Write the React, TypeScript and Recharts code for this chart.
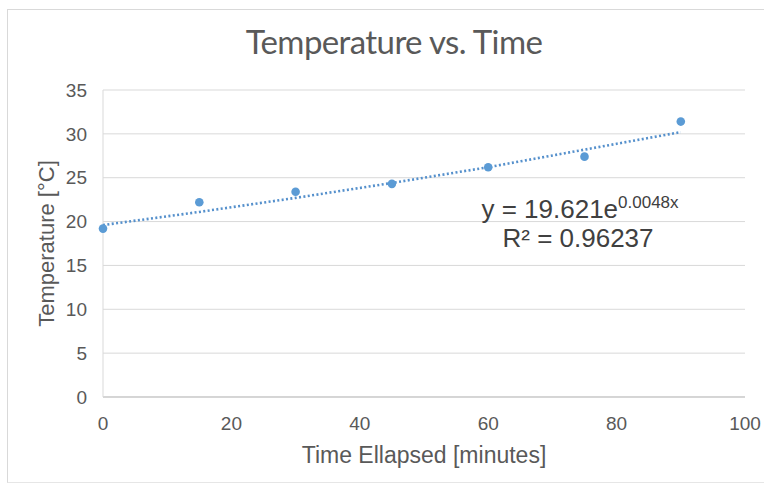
import React from 'react';
import {
  ScatterChart,
  Scatter,
  XAxis,
  YAxis,
  CartesianGrid,
  Label,
} from 'recharts';

// measured temperature at each sampling time
const minutes = [0, 15, 30, 45, 60, 75, 90];
const temperature = [19.2, 22.2, 23.4, 24.3, 26.2, 27.4, 31.4];

// dotted trendline at the same times
const trendValues = [19.6, 21.1, 22.7, 24.4, 26.2, 28.2, 30.2];

const xTicks = [0, 20, 40, 60, 80, 100];
const yTicks = [0, 5, 10, 15, 20, 25, 30, 35];

const points = minutes.map((m, i) => ({ x: m, y: temperature[i] }));
const trend = minutes.map((m, i) => ({ x: m, y: trendValues[i] }));

const blue = '#5b9bd5';
const textGrey = '#595959';
const sans = '"Liberation Sans", Arial, sans-serif';

export default function App() {
  return (
    <div
      style={{
        position: 'absolute',
        left: 7,
        top: 9,
        width: 756,
        height: 472,
        borderLeft: '1px solid #d9d9d9',
        borderTop: '1px solid #d9d9d9',
        borderBottom: '1px solid #e6e6e6',
        background: '#fff',
      }}
    >
      <div
        style={{
          position: 'absolute',
          left: 9,
          top: 15,
          width: 754,
          textAlign: 'center',
          fontFamily: 'Lato, sans-serif',
          fontSize: 33,
          lineHeight: '32px',
          color: textGrey,
          letterSpacing: -0.6,
        }}
      >
        Temperature vs. Time
      </div>

      <ScatterChart width={754} height={472} margin={{ top: 80, right: 17, left: 0, bottom: 0 }}>
        <CartesianGrid vertical={false} stroke="#d9d9d9" />
        <XAxis
          type="number"
          dataKey="x"
          domain={[0, 100]}
          ticks={xTicks}
          height={85}
          tickLine={false}
          tickSize={0}
          tickMargin={20}
          stroke="#bfbfbf"
          tick={{ fill: textGrey, fontSize: 19, fontFamily: sans }}
        >
          <Label
            value="Time Ellapsed [minutes]"
            position="insideBottom"
            offset={19}
            style={{ fill: textGrey, fontSize: 23, fontFamily: sans }}
          />
        </XAxis>
        <YAxis
          type="number"
          dataKey="y"
          domain={[0, 35]}
          ticks={yTicks}
          width={95}
          tickLine={false}
          tickSize={0}
          tickMargin={16}
          stroke="#d9d9d9"
          tick={{ fill: textGrey, fontSize: 19, fontFamily: sans }}
        >
          <Label
            value="Temperature [°C]"
            angle={-90}
            position="insideLeft"
            offset={38}
            style={{ fill: textGrey, fontSize: 22, fontFamily: sans, textAnchor: 'middle' }}
          />
        </YAxis>
        <Scatter
          data={trend}
          isAnimationActive={false}
          line={{ stroke: '#5590cc', strokeWidth: 2.6, strokeDasharray: '2 2.4' }}
          shape={() => <g />}
        />
        <Scatter
          data={points}
          isAnimationActive={false}
          fill={blue}
          shape={(p: any) => <circle cx={p.cx} cy={p.cy} r={4.3} fill={blue} />}
        />
      </ScatterChart>

      <div
        style={{
          position: 'absolute',
          left: 572 - 200,
          width: 400,
          top: 186,
          textAlign: 'center',
          fontFamily: sans,
          fontSize: 26,
          lineHeight: '26px',
          color: '#404040',
          whiteSpace: 'nowrap',
        }}
      >
        y = 19.621e
        <span style={{ fontSize: 17, position: 'relative', top: -10 }}>0.0048x</span>
      </div>
      <div
        style={{
          position: 'absolute',
          left: 570 - 200,
          width: 400,
          top: 215,
          textAlign: 'center',
          fontFamily: sans,
          fontSize: 26,
          lineHeight: '26px',
          color: '#404040',
          whiteSpace: 'nowrap',
        }}
      >
        R² = 0.96237
      </div>
    </div>
  );
}
